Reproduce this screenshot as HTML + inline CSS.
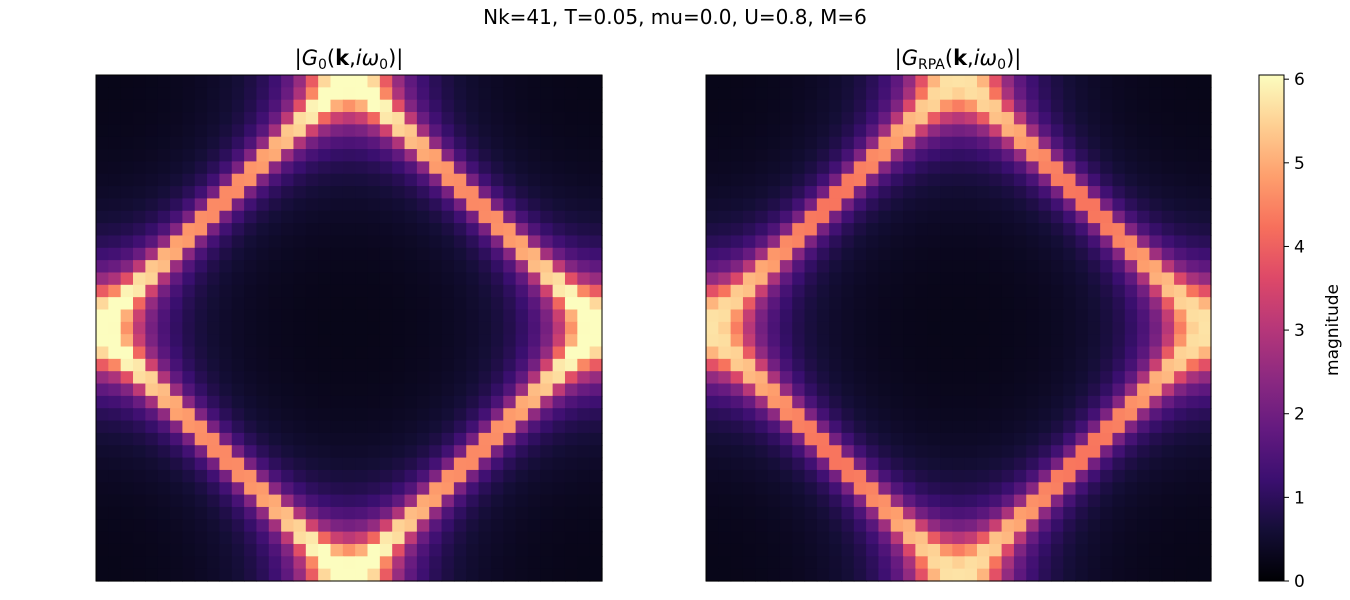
<!DOCTYPE html>
<html><head><meta charset="utf-8"><style>
html,body{margin:0;padding:0;background:#fff;}
svg{display:block;font-family:"DejaVu Sans","Liberation Sans",sans-serif;}
</style></head><body>
<svg id="chart" width="1350" height="600" viewBox="0 0 1350 600">
<defs>
<linearGradient id="magma" x1="0" y1="1" x2="0" y2="0">
<stop offset="0" stop-color="#000004"/><stop offset="0.1" stop-color="#140e36"/>
<stop offset="0.2" stop-color="#3b0f70"/><stop offset="0.3" stop-color="#641a80"/>
<stop offset="0.4" stop-color="#8c2981"/><stop offset="0.5" stop-color="#b73779"/>
<stop offset="0.6" stop-color="#de4968"/><stop offset="0.7" stop-color="#f7705c"/>
<stop offset="0.8" stop-color="#fe9f6d"/><stop offset="0.9" stop-color="#fecf92"/>
<stop offset="1" stop-color="#fcfdbf"/>
</linearGradient>
</defs>
<text x="675" y="24" font-size="20" text-anchor="middle">Nk=41, T=0.05, mu=0.0, U=0.8, M=6</text>
<text x="349" y="65" font-size="21" text-anchor="middle">|<tspan font-style="italic">G</tspan><tspan font-size="14" dy="4">0</tspan><tspan dy="-4">(</tspan><tspan font-weight="bold">k</tspan>,<tspan font-style="italic">iω</tspan><tspan font-size="14" dy="4">0</tspan><tspan dy="-4">)|</tspan></text>
<text x="958" y="65" font-size="21" text-anchor="middle">|<tspan font-style="italic">G</tspan><tspan font-size="14" dy="4">RPA</tspan><tspan dy="-4">(</tspan><tspan font-weight="bold">k</tspan>,<tspan font-style="italic">iω</tspan><tspan font-size="14" dy="4">0</tspan><tspan dy="-4">)|</tspan></text>
<g id="p0"></g>
<g id="p1"></g>
<rect x="96" y="75" width="506" height="506" fill="none" stroke="#000" stroke-width="1"/>
<rect x="706" y="75" width="505" height="506" fill="none" stroke="#000" stroke-width="1"/>
<rect x="1259" y="75" width="25" height="506" fill="url(#magma)" stroke="#000" stroke-width="1"/>
<g id="cbticks"></g>
<text transform="translate(1338,330) rotate(-90)" font-size="17" text-anchor="middle">magnitude</text>
</svg>
<script>
const nk = [41];
const temperature = [0.05];
const panelTitles = ["G0", "GRPA"];
const panelBroadening = [0, 0.175];
const vmin = [0];
const vmax = [6.05];
const cbarTicks = [0, 1, 2, 3, 4, 5, 6];

const stops = ["#000004","#140e36","#3b0f70","#641a80","#8c2981","#b73779","#de4968","#f7705c","#fe9f6d","#fecf92","#fcfdbf"].map(h=>[parseInt(h.slice(1,3),16),parseInt(h.slice(3,5),16),parseInt(h.slice(5,7),16)]);
function magma(t){t=Math.max(0,Math.min(1,t));const f=t*10,i=Math.min(9,Math.floor(f)),r=f-i;const a=stops[i],b=stops[i+1];return "rgb("+a.map((v,j)=>Math.round(v+(b[j]-v)*r)).join(",")+")";}
const NS="http://www.w3.org/2000/svg";
const N=nk[0], w0=Math.PI*temperature[0];
const panels=[{g:"p0",x:96,w:506},{g:"p1",x:706,w:505}];
const y0=75,h=506;
function val(p,i,j){
  const kx=2*Math.PI*(j-(N-1)/2)/N, ky=2*Math.PI*(i-(N-1)/2)/N;
  const e=-2*(Math.cos(kx)+Math.cos(ky));
  const w=panelBroadening[p]||w0;
  return 1/Math.sqrt(w*w+e*e);
}
panels.forEach((P,p)=>{
  const g=document.getElementById(P.g);
  const cw=P.w/N, ch=h/N;
  for(let i=0;i<N;i++)for(let j=0;j<N;j++){
    const r=document.createElementNS(NS,"rect");
    r.setAttribute("x",(P.x+j*cw).toFixed(2));
    r.setAttribute("y",(y0+i*ch).toFixed(2));
    r.setAttribute("width",(cw+0.6).toFixed(2));
    r.setAttribute("height",(ch+0.6).toFixed(2));
    r.setAttribute("fill",magma((val(p,i,j)-vmin[0])/(vmax[0]-vmin[0])));
    
    
    g.appendChild(r);
  }
});
const cb=document.getElementById("cbticks");
cbarTicks.forEach(t=>{
  const y=581-(t-vmin[0])/(vmax[0]-vmin[0])*506;
  const l=document.createElementNS(NS,"line");
  l.setAttribute("x1",1284);l.setAttribute("x2",1289);l.setAttribute("y1",y);l.setAttribute("y2",y);l.setAttribute("stroke","#000");
  
  
  cb.appendChild(l);
  const tx=document.createElementNS(NS,"text");
  tx.setAttribute("x",1294);tx.setAttribute("y",y+6);tx.setAttribute("font-size","17");
  tx.textContent=t;
  
  
  cb.appendChild(tx);
});
</script>
</body></html>
